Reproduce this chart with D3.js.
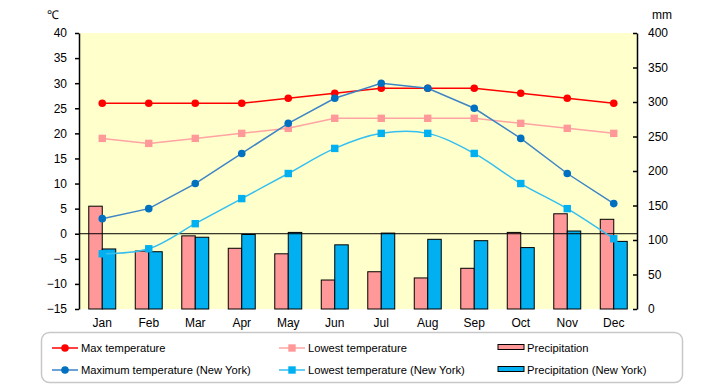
<!DOCTYPE html>
<html>
<head>
<meta charset="utf-8">
<script src="https://cdn.jsdelivr.net/npm/d3@7"></script>
<style>
  body { margin: 0; background: #fff; }
  svg { display: block; font-family: "Liberation Sans", Arial, sans-serif; }
  .axis text { font-size: 12px; fill: #000; }
  .legend text { font-size: 11.2px; fill: #000; }
</style>
</head>
<body>
<svg class="climate-chart" width="720" height="385"></svg>
<script>
const months = ["Jan", "Feb", "Mar", "Apr", "May", "Jun", "Jul", "Aug", "Sep", "Oct", "Nov", "Dec"];
const maxTemp = [26, 26, 26, 26, 27, 28, 29, 29, 29, 28, 27, 26];
const lowTemp = [19, 18, 19, 20, 21, 23, 23, 23, 23, 22, 21, 20];
const maxTempNY = [3, 5, 10, 16, 22, 27, 30, 29, 25, 19, 12, 6];
const lowTempNY = [-4, -3, 2, 7, 12, 17, 20, 20, 16, 10, 5, -1];
const precip = [149, 84, 106, 88, 80, 42, 54, 45, 59, 111, 138, 130];
const precipNY = [87, 83, 104, 108, 111, 93, 110, 101, 99, 89, 113, 98];
const tempTicks = [-15, -10, -5, 0, 5, 10, 15, 20, 25, 30, 35, 40];
const precipTicks = [0, 50, 100, 150, 200, 250, 300, 350, 400];

const margin = { top: 33, right: 83, bottom: 76, left: 79 };

const svg = d3.select(".climate-chart");
const width = +svg.attr("width");
const height = +svg.attr("height");

const x = d3
  .scaleBand()
  .domain(months)
  .range([margin.left, width - margin.right]);

const yT = d3
  .scaleLinear()
  .domain([-15, 40])
  .range([height - margin.bottom, margin.top]);

const yP = d3
  .scaleLinear()
  .domain([0, 400])
  .range([height - margin.bottom, margin.top]);

const cx = (m) => x(m) + x.bandwidth() / 2;
const barW = x.bandwidth() * 0.29;

// plot background
svg
  .append("rect")
  .attr("x", margin.left)
  .attr("y", margin.top)
  .attr("width", width - margin.left - margin.right)
  .attr("height", height - margin.top - margin.bottom)
  .attr("fill", "#ffffcc");

// Bars
svg
  .append("g")
  .selectAll("rect")
  .data(months)
  .join("rect")
  .attr("x", (d) => cx(d) - barW)
  .attr("y", (d, i) => yP(precip[i]))
  .attr("width", barW)
  .attr("height", (d, i) => yP(0) - yP(precip[i]))
  .attr("fill", "#ff9999")
  .attr("stroke", "#000")
  .attr("stroke-width", 1);

svg
  .append("g")
  .selectAll("rect")
  .data(months)
  .join("rect")
  .attr("x", (d) => cx(d))
  .attr("y", (d, i) => yP(precipNY[i]))
  .attr("width", barW)
  .attr("height", (d, i) => yP(0) - yP(precipNY[i]))
  .attr("fill", "#00b0f0")
  .attr("stroke", "#000")
  .attr("stroke-width", 1);

// zero line
svg
  .append("line")
  .attr("x1", margin.left)
  .attr("x2", width - margin.right)
  .attr("y1", yT(0))
  .attr("y2", yT(0))
  .attr("stroke", "#000")
  .attr("stroke-width", 1);

// Temperature series
const series = [
  { values: maxTemp, color: "#ff0000", line: "#ff0000", shape: "circle", curve: d3.curveLinear },
  { values: lowTemp, color: "#ff9999", line: "#ffa3a3", shape: "square", curve: d3.curveLinear },
  { values: maxTempNY, color: "#0070c0", line: "#3d85c6", shape: "circle", curve: d3.curveLinear },
  { values: lowTempNY, color: "#00b0f0", line: "#33bff0", shape: "square", curve: d3.curveCatmullRom },
];

series.forEach((s) => {
  const line = d3
    .line()
    .x((d, i) => cx(months[i]))
    .y((d) => yT(d))
    .curve(s.curve);

  svg
    .append("path")
    .datum(s.values)
    .attr("fill", "none")
    .attr("stroke", s.line)
    .attr("stroke-width", 1.5)
    .attr("d", line);

  const g = svg.append("g");
  if (s.shape === "circle") {
    g.selectAll("circle")
      .data(s.values)
      .join("circle")
      .attr("cx", (d, i) => cx(months[i]))
      .attr("cy", (d) => yT(d))
      .attr("r", 3.8)
      .attr("fill", s.color);
  } else {
    g.selectAll("rect")
      .data(s.values)
      .join("rect")
      .attr("x", (d, i) => cx(months[i]) - 3.7)
      .attr("y", (d) => yT(d) - 3.7)
      .attr("width", 7.4)
      .attr("height", 7.4)
      .attr("fill", s.color);
  }
});

// Left axis
svg
  .append("g")
  .attr("class", "axis")
  .attr("transform", `translate(${margin.left},0)`)
  .call(d3.axisLeft(yT).tickValues(tempTicks).tickSizeInner(4).tickSizeOuter(0).tickPadding(8))
  .call((g) => g.selectAll("line, path").attr("stroke", "#000").attr("stroke-width", 1.5));

// Right axis
svg
  .append("g")
  .attr("class", "axis")
  .attr("transform", `translate(${width - margin.right},0)`)
  .call(d3.axisRight(yP).tickValues(precipTicks).tickSizeInner(-4).tickSizeOuter(0).tickPadding(11))
  .call((g) => g.selectAll("line, path").attr("stroke", "#000").attr("stroke-width", 1.5))
  .call((g) => g.selectAll("text").attr("text-anchor", "start"));

// X axis labels
svg
  .append("g")
  .attr("class", "axis")
  .attr("transform", `translate(0,${height - margin.bottom})`)
  .call(d3.axisBottom(x).tickSize(0).tickPadding(9))
  .call((g) => g.select(".domain").remove());

// units
svg.append("text").attr("x", 53).attr("y", 19).attr("text-anchor", "middle").attr("font-size", "12px").text("℃");
svg.append("text").attr("x", 662).attr("y", 19).attr("text-anchor", "middle").attr("font-size", "12px").text("mm");

// Legend
const legend = svg.append("g").attr("class", "legend");
legend
  .append("rect")
  .attr("x", 41.5)
  .attr("y", 332.5)
  .attr("width", 641)
  .attr("height", 50)
  .attr("rx", 8)
  .attr("fill", "#fff")
  .attr("stroke", "#c8c8c8")
  .attr("stroke-width", 1.5);

const legendItems = [
  { label: "Max temperature", s: series[0], col: 0, row: 0 },
  { label: "Lowest temperature", s: series[1], col: 1, row: 0 },
  { label: "Precipitation", bar: "#ff9999", col: 2, row: 0 },
  { label: "Maximum temperature (New York)", s: series[2], col: 0, row: 1 },
  { label: "Lowest temperature (New York)", s: series[3], col: 1, row: 1 },
  { label: "Precipitation (New York)", bar: "#00b0f0", col: 2, row: 1 },
];
const colX = [52, 279, 498];
const rowY = [348, 370];

legendItems.forEach((it) => {
  const lx = colX[it.col];
  const ly = rowY[it.row];
  if (it.bar) {
    legend
      .append("rect")
      .attr("x", lx)
      .attr("y", ly - 3.5)
      .attr("width", 26)
      .attr("height", 5)
      .attr("fill", it.bar)
      .attr("stroke", "#000")
      .attr("stroke-width", 1);
  } else {
    legend
      .append("line")
      .attr("x1", lx)
      .attr("x2", lx + 26)
      .attr("y1", ly)
      .attr("y2", ly)
      .attr("stroke", it.s.line)
      .attr("stroke-width", 1.5);
    if (it.s.shape === "circle") {
      legend.append("circle").attr("cx", lx + 13).attr("cy", ly).attr("r", 3.8).attr("fill", it.s.color);
    } else {
      legend
        .append("rect")
        .attr("x", lx + 13 - 3.7)
        .attr("y", ly - 3.7)
        .attr("width", 7.4)
        .attr("height", 7.4)
        .attr("fill", it.s.color);
    }
  }
  legend
    .append("text")
    .attr("x", lx + 29)
    .attr("y", ly)
    .attr("dy", "0.35em")
    .text(it.label);
});
</script>
</body>
</html>
